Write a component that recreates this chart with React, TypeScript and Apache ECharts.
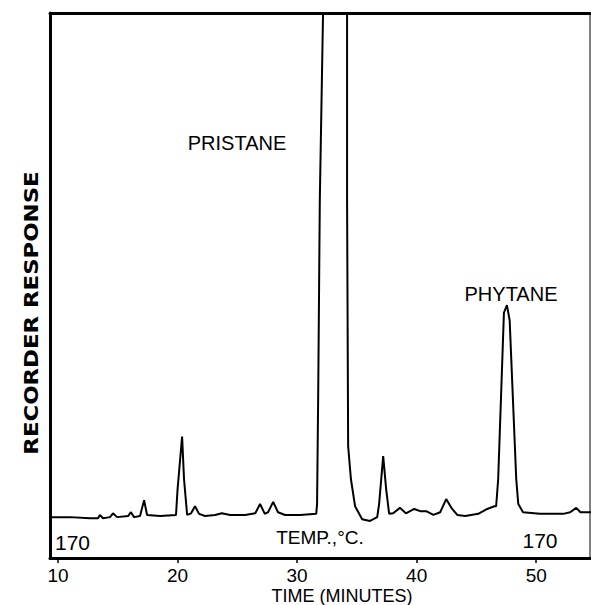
import React, { useEffect, useRef } from "react";
import * as echarts from "echarts";

// Retention time (minutes) and recorder response (arbitrary units, 0–100 = full chart height)
const times: number[] = [
  9.33, 11.0, 12.68, 13.35, 13.5, 13.77, 14.35, 14.6, 14.94, 15.86, 16.1, 16.36, 16.86, 17.2, 17.45,
  18.54, 19.87, 20.0, 20.38, 20.54, 20.8, 21.13, 21.46, 21.8, 22.3, 23.14, 23.7, 24.4, 25.65, 26.5,
  26.9, 27.3, 27.57, 28.0, 28.4, 29.0, 30.25, 31.6, 31.67, 31.76, 31.9, 32.17, 32.3, 34.1, 34.18,
  34.18, 34.27, 34.5, 34.85, 35.44, 36.1, 36.7, 36.86, 37.2, 37.45, 37.7, 38.03, 38.6, 39.1, 39.8,
  40.3, 40.8, 41.4, 41.97, 42.47, 42.97, 43.4, 44.06, 45.15, 45.9, 46.5, 46.65, 46.82, 47.3, 47.55,
  47.78, 48.33, 48.5, 48.9, 50.3, 52.26, 52.84, 53.35, 53.7, 54.6,
];
const response: number[] = [
  7.5, 7.5, 7.3, 7.3, 7.9, 7.3, 7.5, 8.2, 7.5, 7.7, 8.4, 7.5, 7.7, 10.6, 7.9,
  7.7, 7.9, 12.6, 22.3, 14.5, 7.9, 8.2, 9.5, 8.1, 7.7, 7.9, 8.2, 7.9, 7.9, 8.2,
  9.9, 8.1, 8.4, 10.3, 8.4, 7.9, 7.9, 8.1, 9.9, 29.1, 65.8, 100, 115, 115, 100,
  65.8, 20.5, 14.5, 9.5, 7.1, 6.8, 7.5, 9.9, 18.7, 12.6, 8.1, 8.2, 9.2, 8.2, 9.0,
  8.6, 8.6, 7.9, 8.4, 10.8, 9.0, 7.9, 7.7, 8.1, 9.0, 9.5, 9.5, 14.5, 45.0, 46.4,
  43.6, 14.5, 9.9, 8.4, 8.1, 8.1, 8.4, 9.2, 8.4, 8.4,
];
const timeTicks: number[] = [10, 20, 30, 40, 50];
const peakNames: string[] = ["PRISTANE", "PHYTANE"];
const tempLabels: string[] = ["170", "TEMP.,°C.", "170"];
const xTitle = "TIME (MINUTES)";
const yTitle = "RECORDER RESPONSE";

const FONT = "Liberation Sans";

export default function App() {
  const ref = useRef<HTMLDivElement>(null);
  useEffect(() => {
    if (!ref.current) return;
    const chart = echarts.init(ref.current, undefined, { renderer: "svg" });
    const data = times.map((t, i) => [t, response[i]]);
    chart.setOption({
      animation: false,
      backgroundColor: "#fff",
      grid: {
        left: 50,
        right: 1,
        top: 13,
        bottom: 47,
        show: true,
        borderColor: "#000",
        borderWidth: 1,
      },
      xAxis: [
        {
          type: "value",
          min: 9.33,
          max: 54.5,
          position: "bottom",
          axisLine: { show: true, lineStyle: { color: "#000", width: 3 } },
          axisTick: { show: true, customValues: timeTicks, length: 5, lineStyle: { color: "#000", width: 1.5 } },
          axisLabel: {
            show: true,
            customValues: timeTicks,
            color: "#000",
            fontFamily: FONT,
            fontSize: 19,
            lineHeight: 16,
            margin: 9,
          },
          splitLine: { show: false },
        },
        {
          type: "value",
          min: 9.33,
          max: 54.5,
          position: "top",
          axisLine: { show: true, lineStyle: { color: "#000", width: 3 } },
          axisTick: { show: false },
          axisLabel: { show: false },
          splitLine: { show: false },
        },
      ],
      yAxis: {
        type: "value",
        min: 0,
        max: 100,
        axisLine: { show: true, lineStyle: { color: "#000", width: 3 } },
        axisTick: { show: false },
        axisLabel: { show: false },
        splitLine: { show: false },
      },
      series: [
        {
          type: "line",
          data,
          showSymbol: false,
          clip: true,
          lineStyle: { color: "#000", width: 2 },
          z: 3,
        },
      ],
      graphic: [
        {
          type: "text",
          x: 237,
          y: 143,
          style: { text: peakNames[0], font: `20px "${FONT}"`, fill: "#000", textAlign: "center", textVerticalAlign: "middle" },
        },
        {
          type: "text",
          x: 511,
          y: 294,
          style: { text: peakNames[1], font: `20px "${FONT}"`, fill: "#000", textAlign: "center", textVerticalAlign: "middle" },
        },
        {
          type: "text",
          x: 55,
          y: 542,
          style: { text: tempLabels[0], font: `21px "${FONT}"`, fill: "#000", textAlign: "left", textVerticalAlign: "middle" },
        },
        {
          type: "text",
          x: 320,
          y: 537,
          style: { text: tempLabels[1], font: `19px "${FONT}"`, fill: "#000", textAlign: "center", textVerticalAlign: "middle" },
        },
        {
          type: "text",
          x: 540,
          y: 540,
          style: { text: tempLabels[2], font: `21px "${FONT}"`, fill: "#000", textAlign: "center", textVerticalAlign: "middle" },
        },
        {
          type: "text",
          x: 342,
          y: 596,
          style: {
            text: xTitle,
            font: `18px "${FONT}"`,
            lineHeight: 15,
            fill: "#000",
            textAlign: "center",
            textVerticalAlign: "middle",
          },
        },
        {
          type: "text",
          x: 32,
          y: 313,
          rotation: Math.PI / 2,
          scaleX: 1.2,
          style: {
            text: yTitle,
            font: `bold 19px "DejaVu Sans"`,
            fill: "#000",
            textAlign: "center",
            textVerticalAlign: "middle",
          },
        },
      ],
    });
    return () => chart.dispose();
  }, []);
  return <div ref={ref} style={{ position: "fixed", left: 0, top: 0, width: 591, height: 605 }} />;
}
